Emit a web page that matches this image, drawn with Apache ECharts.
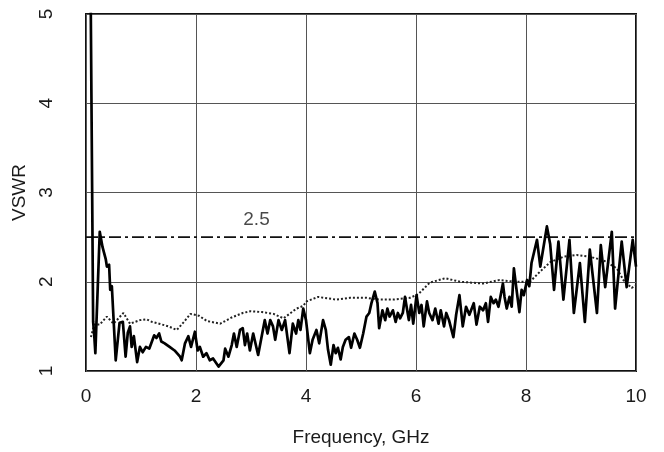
<!DOCTYPE html>
<html>
<head>
<meta charset="utf-8">
<script src="https://cdn.jsdelivr.net/npm/echarts@6/dist/echarts.min.js"></script>
<style>
html,body{margin:0;padding:0;background:#fff;}
#chart{width:664px;height:452px;}
</style>
</head>
<body>
<div id="chart"></div>
<script>
// Solid curve (measured VSWR)
const solidFreq = [0.08,0.13,0.15,0.17,0.25,0.30,0.33,0.36,0.38,0.42,0.44,0.47,0.54,0.61,0.67,0.72,0.76,0.80,0.83,0.87,0.93,0.98,1.03,1.09,1.15,1.24,1.28,1.33,1.37,1.43,1.52,1.61,1.71,1.74,1.80,1.86,1.91,1.98,2.03,2.07,2.13,2.19,2.25,2.31,2.41,2.50,2.53,2.59,2.65,2.69,2.74,2.80,2.85,2.89,2.93,2.98,3.04,3.13,3.25,3.30,3.35,3.40,3.44,3.50,3.56,3.62,3.70,3.76,3.82,3.86,3.90,3.95,4.00,4.07,4.12,4.19,4.24,4.31,4.36,4.40,4.45,4.50,4.54,4.58,4.63,4.67,4.72,4.78,4.82,4.88,4.93,4.98,5.04,5.10,5.15,5.19,5.25,5.30,5.33,5.39,5.44,5.48,5.52,5.58,5.63,5.67,5.71,5.76,5.80,5.84,5.87,5.91,5.95,6.01,6.06,6.10,6.14,6.20,6.24,6.30,6.35,6.41,6.45,6.51,6.55,6.60,6.68,6.73,6.79,6.85,6.91,6.97,7.05,7.10,7.16,7.22,7.27,7.31,7.36,7.41,7.45,7.50,7.58,7.61,7.65,7.70,7.74,7.78,7.83,7.88,7.92,7.96,8.02,8.06,8.10,8.20,8.26,8.38,8.44,8.51,8.59,8.68,8.79,8.87,8.98,9.07,9.16,9.29,9.36,9.44,9.56,9.62,9.74,9.83,9.94,10.0];
const solidVswr = [5.6,1.55,1.4,1.2,2.56,2.39,2.32,2.25,2.17,2.19,1.91,1.95,1.12,1.54,1.55,1.16,1.43,1.50,1.27,1.39,1.10,1.27,1.21,1.27,1.25,1.40,1.37,1.42,1.33,1.31,1.27,1.23,1.16,1.12,1.31,1.39,1.27,1.44,1.23,1.27,1.16,1.20,1.12,1.14,1.05,1.12,1.25,1.16,1.29,1.42,1.27,1.46,1.48,1.29,1.42,1.23,1.42,1.18,1.57,1.42,1.57,1.50,1.35,1.57,1.46,1.57,1.20,1.53,1.42,1.57,1.46,1.70,1.57,1.20,1.35,1.46,1.31,1.57,1.46,1.24,1.07,1.29,1.20,1.26,1.13,1.27,1.35,1.38,1.26,1.42,1.35,1.26,1.42,1.61,1.65,1.76,1.89,1.76,1.48,1.68,1.57,1.70,1.61,1.68,1.55,1.65,1.59,1.65,1.83,1.68,1.57,1.74,1.53,1.85,1.65,1.74,1.50,1.78,1.65,1.57,1.70,1.53,1.68,1.50,1.65,1.57,1.38,1.63,1.85,1.50,1.72,1.63,1.76,1.52,1.72,1.68,1.76,1.55,1.83,1.76,1.80,1.72,1.98,1.83,1.70,1.83,1.72,2.15,1.90,1.66,1.91,1.85,2.02,1.95,2.21,2.47,2.17,2.62,2.42,1.91,2.45,1.80,2.47,1.65,2.21,1.55,2.36,1.65,2.41,1.94,2.56,1.70,2.45,1.94,2.47,2.17];

// Dotted curve
const dottedFreq = [0.09,0.15,0.25,0.38,0.50,0.68,0.80,0.98,1.10,1.20,1.33,1.50,1.65,1.78,1.90,2.05,2.20,2.44,2.65,2.85,2.99,3.20,3.41,3.59,3.83,3.95,4.01,4.22,4.55,4.80,5.10,5.34,5.58,5.89,6.04,6.25,6.53,6.80,7.01,7.22,7.52,7.80,8.07,8.25,8.44,8.68,8.92,9.16,9.41,9.65,9.77,9.92,10.0];
const dottedVswr = [1.38,1.52,1.52,1.61,1.53,1.65,1.53,1.57,1.58,1.55,1.53,1.50,1.46,1.55,1.64,1.62,1.56,1.53,1.60,1.65,1.67,1.66,1.64,1.59,1.70,1.73,1.78,1.83,1.80,1.82,1.82,1.80,1.80,1.82,1.86,1.99,2.04,2.00,1.99,1.98,2.02,2.00,2.00,2.11,2.22,2.28,2.30,2.28,2.24,2.15,2.02,1.93,1.96];

// Reference level
const refFreq = [0, 10];
const refLevel = 2.5;
const refLabelFreq = 3.1;
const refLabelText = '2.5';

const xTicks = [0, 2, 4, 6, 8, 10];
const yTicks = [1, 2, 3, 4, 5];

const zip = (a, b) => a.map((v, i) => [v, b[i]]);
const FONT = 'Liberation Sans';
const TXT = '#1a1a1a';

const chart = echarts.init(document.getElementById('chart'));
chart.setOption({
  animation: false,
  backgroundColor: '#fff',
  grid: {
    left: 86, right: 28, top: 14, bottom: 81,
    show: true, borderColor: '#111', borderWidth: 2, backgroundColor: 'transparent'
  },
  xAxis: {
    type: 'value',
    min: xTicks[0], max: xTicks[xTicks.length - 1], interval: 2,
    name: 'Frequency, GHz', nameLocation: 'middle', nameGap: 57,
    nameTextStyle: { fontFamily: FONT, fontSize: 19, color: TXT },
    axisLine: { show: false },
    axisTick: { show: false },
    axisLabel: { fontFamily: FONT, fontSize: 19, color: TXT, margin: 16 },
    splitLine: { show: true, lineStyle: { color: '#555', width: 1 } }
  },
  yAxis: {
    type: 'value',
    min: yTicks[0], max: yTicks[yTicks.length - 1], interval: 1,
    name: 'VSWR', nameLocation: 'middle', nameGap: 56, nameRotate: 90,
    nameTextStyle: { fontFamily: FONT, fontSize: 19, color: TXT },
    axisLine: { show: false },
    axisTick: { show: false },
    axisLabel: { fontFamily: FONT, fontSize: 19, color: TXT, rotate: 90, margin: 30 },
    splitLine: { show: true, lineStyle: { color: '#555', width: 1 } }
  },
  series: [
    {
      type: 'line',
      data: zip(refFreq, [refLevel, refLevel]),
      symbol: 'none',
      lineStyle: { color: '#111', width: 1.8, type: [12, 4, 3, 4] },
      silent: true, z: 2
    },
    {
      type: 'line',
      data: zip(dottedFreq, dottedVswr),
      symbol: 'none',
      lineStyle: { color: '#222', width: 2, type: [2, 2] },
      z: 3
    },
    {
      type: 'line',
      data: zip(solidFreq, solidVswr),
      symbol: 'none',
      clip: true,
      lineStyle: { color: '#000', width: 2.7, join: 'round' },
      z: 4
    },
    {
      type: 'scatter',
      data: [[refLabelFreq, refLevel]],
      symbolSize: 0,
      silent: true,
      label: {
        show: true, position: 'top', distance: 8,
        formatter: refLabelText,
        fontFamily: FONT, fontSize: 19, color: TXT
      }
    }
  ]
});
</script>
</body>
</html>
